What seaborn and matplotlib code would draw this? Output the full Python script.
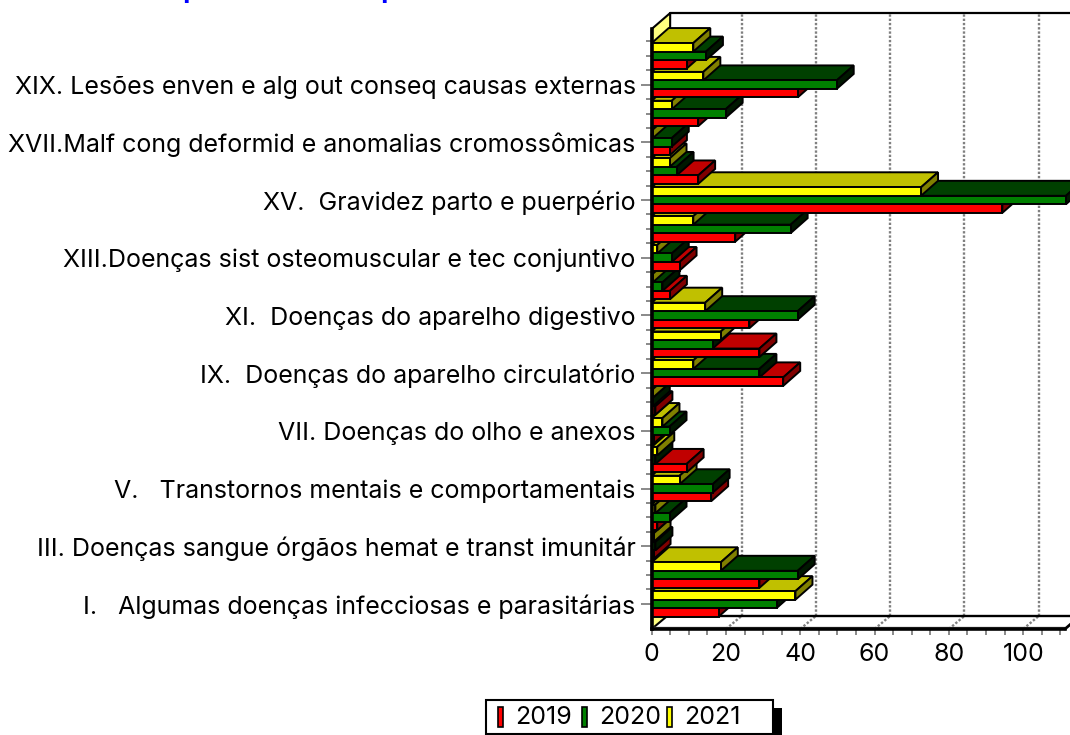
import matplotlib
matplotlib.use("Agg")
import matplotlib.pyplot as plt
import seaborn as sns
import pandas as pd
from matplotlib.patches import Polygon, Rectangle
from matplotlib.lines import Line2D
from matplotlib.ticker import MultipleLocator
from matplotlib.transforms import Affine2D, blended_transform_factory
from matplotlib.colors import to_hex

chapters = ["I", "II", "III", "IV", "V", "VI", "VII", "VIII", "IX", "X",
            "XI", "XII", "XIII", "XIV", "XV", "XVI", "XVII", "XVIII", "XIX", "XX"]
v2019 = [18, 29, 0.5, 1.5, 16, 9.4, 0.5, 1, 35.4, 29,
         26.3, 4.9, 7.5, 22.5, 94.4, 12.5, 4.9, 12.5, 39.3, 9.4]
v2020 = [33.6, 39.3, 1, 4.8, 16.4, 1, 4.8, 0.3, 29, 16.4,
         39.3, 2.9, 5.4, 37.4, 111.5, 6.7, 5.4, 19.9, 49.8, 14.6]
v2021 = [38.7, 18.6, 0.5, 1, 7.5, 1.5, 2.9, 0.3, 11.2, 18.6,
         14.4, 0.3, 1.5, 11.2, 72.5, 4.8, 0.3, 5.4, 13.9, 11.2]
labels = {
    "I": "I.   Algumas doenças infecciosas e parasitárias",
    "III": "III. Doenças sangue órgãos hemat e transt imunitár",
    "V": "V.   Transtornos mentais e comportamentais",
    "VII": "VII. Doenças do olho e anexos",
    "IX": "IX.  Doenças do aparelho circulatório",
    "XI": "XI.  Doenças do aparelho digestivo",
    "XIII": "XIII.Doenças sist osteomuscular e tec conjuntivo",
    "XV": "XV.  Gravidez parto e puerpério",
    "XVII": "XVII.Malf cong deformid e anomalias cromossômicas",
    "XIX": "XIX. Lesões enven e alg out conseq causas externas",
}
years = ["2019", "2020", "2021"]
front = {"2019": "#FF0000", "2020": "#008000", "2021": "#FFFF00"}
topc = {"#ff0000": "#C00000", "#008000": "#004000", "#ffff00": "#C0C000"}
sidec = {"#ff0000": "#800000", "#008000": "#001800", "#ffff00": "#808000"}

W, H = 1070, 735
X0, X1, Y0, Y1 = 651.7, 1065.0, 629.0, 29.0  # front plot box in pixels
SX = 3.715
GROUP = 28.84
BAR_DX, BAR_DY = 17.0, 15.0
WALL_DX = 15.5
BACK_FLOOR, BACK_TOP = 616.0, 13.0
FONT = ["Inter", "Liberation Sans", "DejaVu Sans"]
FS = 18

df = pd.DataFrame({"chapter": chapters * 3,
                   "year": sum(([y] * len(chapters) for y in years), []),
                   "value": v2019 + v2020 + v2021})

sns.set_theme(style="white")
plt.rcParams["font.family"] = FONT
fig = plt.figure(figsize=(W / 100, H / 100), dpi=100, facecolor="white")
ax = fig.add_axes([X0 / W, (H - Y0) / H, (X1 - X0) / W, (Y0 - Y1) / H])
order = chapters[::-1]
sns.barplot(data=df, y="chapter", x="value", hue="year", order=order,
            hue_order=years[::-1], palette=front, saturation=1, width=0.885,
            gap=0, orient="h", legend=False, edgecolor="black", linewidth=1.4, ax=ax)
ax.set_xlim(0, (X1 - X0) / SX)
ax.set_ylim(19.87, -0.93)
ax.set_xlabel("")
ax.set_ylabel("")
ax.patch.set_alpha(0)
bars = [b for b in ax.patches if isinstance(b, Rectangle) and b.get_height() > 0]

px = Affine2D().scale(1, -1).translate(0, H)  # pixels, origin top-left


def chrome(xs, ys, z=1, **kw):
    ax.add_line(Line2D(xs, ys, transform=px, clip_on=False, zorder=z, **kw))


# walls and floor
ax.add_patch(Polygon([(X0, Y0), (X0 + WALL_DX, BACK_FLOOR), (X0 + 18.5, BACK_TOP), (X0, Y1)],
                     closed=True, fc="#FFFF80", ec="black", lw=1.5, transform=px,
                     clip_on=False, zorder=1))
chrome([X0 + 18.5, W], [BACK_TOP, BACK_TOP], color="black", lw=1.6, z=1)
chrome([X0 + WALL_DX, W], [BACK_FLOOR, BACK_FLOOR], color="black", lw=1.7, z=1.5)
chrome([X0, X1], [626.5, 626.5], color="#808080", lw=1, z=1)
chrome([X1, X1 + 15], [Y0, BACK_FLOOR], color="black", lw=2, z=1.5)

# dotted gridlines on back wall and floor
grid_tf = blended_transform_factory(ax.transData + Affine2D().translate(WALL_DX, 0), px)
floor_tf = blended_transform_factory(ax.transData, px)
for t in range(20, 101, 20):
    ax.add_line(Line2D([t, t], [BACK_FLOOR, BACK_TOP], transform=grid_tf, color="#808080",
                       lw=1.7, ls=(0, (1, 0.8)), clip_on=False, zorder=0.5))
    ax.add_line(Line2D([t, t + WALL_DX / SX], [Y0, BACK_FLOOR], transform=floor_tf, color="#808080",
                       lw=1.7, ls=(0, (1, 0.8)), clip_on=False, zorder=0.5))

# 3D faces derived from the drawn bars; lower groups first, upper groups over them
ddx, ddy = BAR_DX / SX, BAR_DY / GROUP
bars = sorted(bars, key=lambda b: -(b.get_y() + b.get_height() / 2))
z = 10
for b in bars:
    x1, yt, yb = b.get_width(), b.get_y(), b.get_y() + b.get_height()
    c = to_hex(b.get_facecolor())
    ax.add_patch(Polygon([(0, yt), (ddx, yt - ddy), (x1 + ddx, yt - ddy), (x1, yt)], closed=True,
                         fc=topc[c], ec="black", lw=1.4, clip_on=False, zorder=z))
    ax.add_patch(Polygon([(x1, yt), (x1 + ddx, yt - ddy), (x1 + ddx, yb - ddy), (x1, yb)], closed=True,
                         fc=sidec[c], ec="black", lw=1.4, clip_on=False, zorder=z + 0.1))
    b.set_zorder(z + 0.2)
    b.set_clip_on(False)
    z += 1

# axes and ticks
for s in ("top", "right"):
    ax.spines[s].set_visible(False)
for s in ("left", "bottom"):
    ax.spines[s].set_color("black")
    ax.spines[s].set_linewidth(2.6)
    ax.spines[s].set_zorder(1000)
ax.set_xticks(range(0, 101, 20))
ax.xaxis.set_minor_locator(MultipleLocator(5))
ax.set_yticks([order.index(k) for k in labels], [labels[k] for k in labels])
ax.set_yticks([i / 2 for i in range(-1, 39) if i % 4 != 2], minor=True)
ax.tick_params(axis="x", which="both", bottom=True, length=4, width=1.3, color="#808080",
               labelsize=FS, pad=6, labelcolor="black")
ax.tick_params(axis="y", which="major", left=True, length=8, width=1.3, color="#808080",
               labelsize=FS, pad=3.5, labelcolor="black")
ax.tick_params(axis="y", which="minor", left=True, length=4, width=1.3, color="#808080")

# title (only descenders remain inside the image)
for xp in (182, 380):
    fig.text(xp / W, 1 + 3 / H, "p", color="#0000FF", fontsize=20, fontweight="bold",
             family=["Liberation Sans"], ha="left", va="baseline")

# legend
fig.add_artist(Rectangle((773, 708), 9, 27, transform=px, fc="black", ec="none"))
fig.add_artist(Rectangle((486, 699.5), 287, 34.5, transform=px, fc="white", ec="black", lw=1.5))
for xm, xt, y in zip((498, 582, 667), (515, 599, 684), years):
    fig.add_artist(Rectangle((xm, 707), 4.5, 20, transform=px, fc=front[y], ec="black", lw=1.2))
    fig.text(xt / W, 1 - 717.5 / H, y, fontsize=FS, color="black", ha="left", va="center")

fig.savefig("out.png", dpi=100, facecolor="white")
